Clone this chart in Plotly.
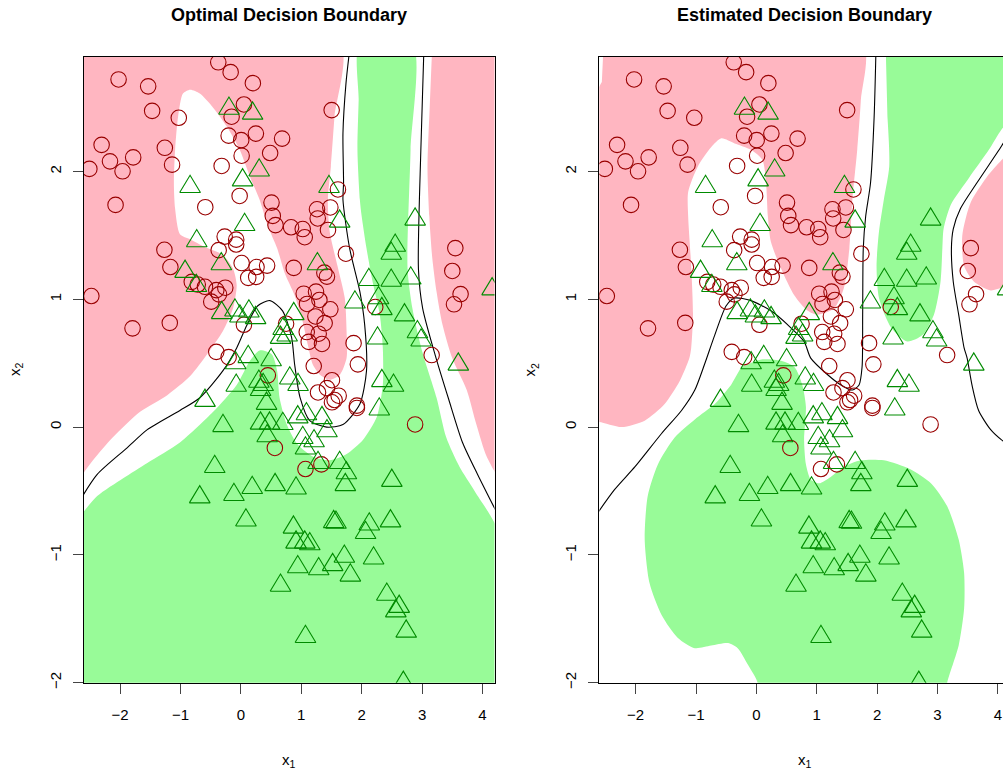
import plotly.graph_objects as go

# ---------------- data ----------------
circle_x = [-0.375, -0.170, -2.026, -1.536, 0.198, 0.050, -0.154, -1.470, -1.029, 1.503,
            -0.203, 0.248, 0.005, 0.682, -2.307, -1.260, 0.012, 0.484, -2.168, -1.784,
            -1.960, -1.140, -2.510, -0.319, -0.021, -2.076, -0.590, 1.607, 0.507, 0.528,
            0.573, 0.831, 1.024, 1.057, 1.260, 1.481, 1.272, 1.442, -0.269, -0.078,
            -0.078, -1.267, -0.368, 1.739, -1.168, 0.012, 0.259, 0.434, 0.121, 0.253,
            0.875, 1.382, 1.425, 3.551, 3.501, -0.814, -0.715, -0.595, -0.408, -0.259,
            -0.363, -0.491, -2.477, 1.040, 1.244, 1.300, 1.095, 1.481, 1.234, 1.387,
            3.638, 3.529, 2.225, -1.795, -1.178, 0.050, 0.748, 1.090, 1.288, 1.123,
            1.343, 1.866, -0.408, -0.203, 3.159, 1.206, 1.937, 0.446, 1.508, 1.425,
            1.277, 1.619, 1.552, 1.508, 1.921, 1.921, 2.885, 0.562, 1.069, 1.333]
circle_y = [2.855, 2.778, 2.721, 2.667, 2.692, 2.525, 2.429, 2.475, 2.421, 2.481,
            2.281, 2.297, 2.246, 2.258, 2.209, 2.186, 2.124, 2.145, 2.080, 2.111,
            2.002, 2.054, 2.021, 2.044, 1.809, 1.739, 1.721, 1.860, 1.757, 1.653,
            1.581, 1.564, 1.550, 1.486, 1.705, 1.719, 1.633, 1.543, 1.491, 1.467,
            1.429, 1.388, 1.385, 1.357, 1.253, 1.284, 1.253, 1.264, 1.168, 1.176,
            1.246, 1.209, 1.178, 1.401, 1.222, 1.137, 1.116, 1.098, 1.072, 1.091,
            1.039, 0.982, 1.026, 1.044, 1.060, 0.995, 0.964, 0.922, 0.866, 0.814,
            1.041, 0.961, 0.940, 0.773, 0.816, 0.801, 0.809, 0.744, 0.731, 0.667,
            0.651, 0.657, 0.589, 0.548, 0.564, 0.478, 0.491, 0.405, 0.367, 0.305,
            0.271, 0.246, 0.212, 0.194, 0.168, 0.150, 0.021, -0.163, -0.328, -0.292]

tri_x = [-0.198, 0.193, -0.842, 0.028, 0.302, 1.458, 0.061, 1.635, 2.885, -0.732,
         -0.325, -0.925, -0.738, 1.267, 2.555, 2.489, 2.119, 2.489, 2.813, 1.888,
         2.279, 2.334, 2.709, 2.923, 2.984, 2.263, 3.600, 4.160, -0.319, -0.099,
         0.132, -0.017, 0.243, 0.875, 0.699, 0.765, 0.656, 0.121, 0.500, -0.088,
         -0.078, -0.595, 0.297, 0.368, 0.325, 0.809, 0.946, 2.334, 2.527, 0.424,
         2.291, -0.297, 0.325, 0.474, 0.694, 0.434, 0.941, 1.085, 1.343, 1.425,
         1.024, 1.211, 1.069, 1.277, 1.635, 1.746, 1.729, 2.499, -0.434, 0.187,
         0.566, 0.913, -0.116, -0.682, 0.083, 0.870, 0.913, 1.057, 1.140, 1.536,
         1.574, 2.126, 2.064, 2.477, 0.941, 1.288, 1.519, 1.713, 1.812, 2.197,
         0.656, 2.416, 2.621, 2.565, 2.737, 1.069, 2.690]
tri_y = [2.494, 2.455, 1.881, 1.933, 2.010, 1.881, 1.584, 1.610, 1.626, 1.457,
         1.277, 1.217, 1.106, 1.277, 1.421, 1.359, 1.153, 1.147, 1.165, 0.977,
         1.010, 0.925, 0.876, 0.744, 0.680, 0.695, 0.491, 1.080, 0.894, 0.915,
         0.907, 0.868, 0.855, 0.886, 0.770, 0.719, 0.700, 0.550, 0.525, 0.502,
         0.326, 0.207, 0.357, 0.331, 0.292, 0.382, 0.331, 0.362, 0.326, 0.184,
         0.140, 0.010, 0.029, 0.029, 0.026, -0.070, 0.078, 0.103, 0.072, -0.031,
         -0.083, -0.109, -0.165, -0.279, -0.279, -0.359, -0.452, -0.419, -0.310, -0.475,
         -0.452, -0.478, -0.529, -0.548, -0.729, -0.785, -0.902, -0.902, -0.915, -0.742,
         -0.747, -0.760, -0.827, -0.736, -1.095, -1.111, -1.078, -1.013, -1.160, -1.026,
         -1.240, -1.310, -1.405, -1.440, -1.599, -1.641, -2.000]

# ---- optimal (left) panel regions and boundary ----
opt_pink_main_x = [-2.7, 1.64, 1.55, 1.49, 1.44, 1.47, 1.60, 1.72, 1.75, 1.75, 1.64, 1.47, 1.31,
                   1.19, 1.11, 1.02, 0.89, 0.73, 0.60, 0.45, 0.31, 0.15, -0.02, -0.23, -0.46,
                   -0.68, -0.84, -0.96, -1.04, -1.09, -1.11, -1.09, -1.01, -0.84, -0.60, -0.31,
                   -0.13, -0.07, -0.13, -0.30, -0.56, -0.84, -1.22, -1.67, -2.12, -2.45, -2.7]
opt_pink_main_y = [3.0, 3.0, 2.43, 2.04, 1.78, 1.53, 1.26, 1.01, 0.75, 0.54, 0.41, 0.37, 0.41,
                   0.49, 0.64, 0.83, 1.03, 1.20, 1.40, 1.57, 1.78, 1.96, 2.17, 2.35, 2.50,
                   2.61, 2.64, 2.61, 2.43, 2.17, 1.91, 1.71, 1.51, 1.47, 1.41, 1.35,
                   1.24, 1.11, 0.93, 0.75, 0.57, 0.40, 0.25, 0.12, -0.08, -0.26, -0.42]
opt_pink_right_x = [3.17, 4.3, 4.3, 4.07, 3.90, 3.74, 3.50, 3.34, 3.24, 3.17, 3.12, 3.09, 3.12]
opt_pink_right_y = [3.0, 3.0, -0.40, -0.23, 0.02, 0.29, 0.54, 0.80, 1.06, 1.32, 1.65, 2.04, 2.43]
opt_green_x = [-2.7, -2.38, -1.95, -1.55, -1.01, -0.46, -0.07, 0.15, 0.31, 0.51, 0.60, 0.64,
               0.76, 0.93, 1.19, 1.47, 1.75, 2.02, 2.25, 2.35, 2.35, 2.30, 2.18, 2.08, 2.00,
               1.97, 1.93, 1.95, 1.97, 2.84, 2.81, 2.76, 2.84, 3.01, 3.24, 3.40, 3.62, 3.87,
               4.3, 4.3, -2.7]
opt_green_y = [-0.72, -0.54, -0.40, -0.28, -0.12, 0.12, 0.33, 0.52, 0.60, 0.57, 0.44, 0.23,
               0.02, -0.13, -0.23, -0.26, -0.21, -0.10, 0.08, 0.33, 0.62, 0.88, 1.14, 1.40, 1.65,
               1.78, 2.17, 2.56, 3.0, 3.0, 2.17, 1.24, 0.93, 0.58, 0.23, -0.08, -0.31, -0.50,
               -0.86, -2.1, -2.1]
opt_line1_x = [-2.7, -2.38, -1.88, -1.55, -1.01, -0.68, -0.30, -0.07, 0.10, 0.28, 0.48, 0.69,
               0.84, 0.89, 0.98, 1.14, 1.42, 1.69, 1.97, 2.08, 2.05, 1.97, 1.80, 1.69, 1.70,
               1.69, 1.74, 1.80]
opt_line1_y = [-0.60, -0.37, -0.16, -0.02, 0.13, 0.23, 0.44, 0.62, 0.80, 0.95, 0.99, 0.91,
               0.70, 0.49, 0.23, 0.05, 0.0, 0.02, 0.18, 0.44, 0.80, 1.06, 1.40, 1.78, 1.91,
               2.30, 2.69, 2.95]
opt_line2_x = [3.03, 2.98, 2.94, 3.01, 3.22, 3.44, 3.67, 3.92, 4.25]
opt_line2_y = [2.95, 2.17, 1.24, 0.93, 0.56, 0.22, -0.12, -0.37, -0.68]

# ---- estimated (right) panel regions and boundary ----
est_pink_main_x = [-2.53, 1.76, 1.73, 1.67, 1.59, 1.54, 1.45, 1.29, 1.01, 0.85, 0.63, 0.41,
                   0.24, 0.19, 0.16, 0.10, -0.09, -0.36, -0.58, -0.75, -0.97, -1.13, -1.13,
                   -1.08, -1.05, -1.08, -1.11, -1.27, -1.52, -1.85, -2.23, -2.6, -2.7, -2.7,
                   -2.56]
est_pink_main_y = [3.0, 3.0, 2.56, 2.17, 1.78, 1.40, 1.09, 0.93, 0.88, 0.91, 1.03, 1.24,
                   1.45, 1.65, 1.91, 2.09, 2.17, 2.22, 2.26, 2.19, 2.04, 1.84, 1.65,
                   1.26, 0.88, 0.62, 0.54, 0.36, 0.18, 0.05, 0.0, 0.04, 0.04, 2.55,
                   2.70]
est_pink_right_x = [4.3, 4.06, 3.82, 3.55, 3.41, 3.44, 3.60, 3.88, 4.06, 4.3]
est_pink_right_y = [2.22, 2.09, 1.96, 1.76, 1.50, 1.26, 1.14, 1.07, 1.09, 1.12]
est_green_top_x = [2.14, 4.3, 4.3, 4.06, 3.85, 3.52, 3.22, 3.10, 3.08, 3.05, 2.94, 2.75, 2.50,
                   2.23, 2.03, 1.99, 2.03, 2.11, 2.20, 2.17]
est_green_top_y = [3.0, 3.0, 2.45, 2.33, 2.17, 1.95, 1.74, 1.55, 1.40, 1.14, 0.88, 0.72, 0.67,
                   0.78, 1.01, 1.26, 1.53, 1.78, 2.04, 2.43]
est_green_low_x = [-0.25, 0.08, 0.41, 0.63, 0.76, 0.82, 0.79, 0.82, 0.90, 1.04, 1.23, 1.45,
                   1.73, 2.11, 2.55, 2.89, 3.16, 3.35, 3.44, 3.44, 3.35, 3.16, 3.13, 0.0, 0.02,
                   -0.14, -0.31, -0.47, -0.75, -1.02, -1.30, -1.57, -1.77, -1.85, -1.80, -1.63,
                   -1.35, -1.02, -0.69, -0.42]
est_green_low_y = [0.47, 0.53, 0.52, 0.47, 0.33, 0.16, -0.10, -0.29, -0.41, -0.44, -0.39, -0.31,
                   -0.26, -0.26, -0.33, -0.44, -0.62, -0.88, -1.14, -1.42, -1.71, -2.0, -2.1, -2.1,
                   -2.0, -1.86, -1.73, -1.69, -1.71, -1.73, -1.65, -1.47, -1.22, -0.88, -0.54,
                   -0.29, -0.08, 0.06, 0.18, 0.33]
est_line1_x = [-2.7, -2.35, -2.01, -1.57, -1.24, -1.02, -0.86, -0.69, -0.50, -0.36, -0.09,
               0.24, 0.52, 0.79, 0.90, 1.18, 1.40, 1.59, 1.70, 1.75, 1.76, 1.77, 1.81, 1.89,
               1.95, 1.98]
est_line1_y = [-0.72, -0.49, -0.31, -0.05, 0.13, 0.29, 0.49, 0.72, 0.95, 1.01, 0.99,
               0.91, 0.80, 0.67, 0.54, 0.41, 0.33, 0.29, 0.33, 0.47, 0.88, 1.40, 1.65, 1.91,
               2.43, 2.95]
est_line2_x = [4.25, 4.06, 3.65, 3.38, 3.26, 3.23, 3.26, 3.35, 3.44, 3.49, 3.57, 3.68, 3.88,
               4.06, 4.25]
est_line2_y = [2.35, 2.20, 1.91, 1.71, 1.55, 1.40, 1.14, 0.88, 0.62, 0.54, 0.33, 0.13, -0.02,
               -0.10, -0.16]

x_ticks = [-2, -1, 0, 1, 2, 3, 4]
y_ticks = [-2, -1, 0, 1, 2]
titles = ["Optimal Decision Boundary", "Estimated Decision Boundary"]

PINK = "#FFB6C1"
GREEN = "#98FB98"
CIRCLE_COL = "#990000"
TRI_COL = "#008B00"
FONT = "Liberation Sans, Arial, sans-serif"

# the original figure is slightly wider than the window; the window crops its right edge
W, H = 1011, 773
PX_X, PX_Y = 60.5, 129.0          # screen pixels per data unit (style constant)
TRI_HALF_W, TRI_UP, TRI_DOWN = 10.4, 11.6, 5.8   # triangle marker geometry in pixels

fig = go.Figure()


def region(xs, ys, color, xa, ya):
    fig.add_trace(go.Scatter(x=xs, y=ys, mode="lines", fill="toself", fillcolor=color,
                             line=dict(width=0, color=color, shape="spline", smoothing=0.7),
                             hoverinfo="skip", showlegend=False, xaxis=xa, yaxis=ya))


def bline(xs, ys, xa, ya):
    fig.add_trace(go.Scatter(x=xs, y=ys, mode="lines",
                             line=dict(width=1.1, color="black", shape="spline", smoothing=0.7),
                             hoverinfo="skip", showlegend=False, xaxis=xa, yaxis=ya))


def points(xa, ya):
    fig.add_trace(go.Scatter(x=circle_x, y=circle_y, mode="markers",
                             marker=dict(symbol="circle-open", size=15.5, color=CIRCLE_COL,
                                         line=dict(width=1.1, color=CIRCLE_COL)),
                             hoverinfo="skip", showlegend=False, xaxis=xa, yaxis=ya))
    # open equilateral-looking triangles (R pch = 2) built around each data point
    dx = TRI_HALF_W / PX_X
    du = TRI_UP / PX_Y
    dd = TRI_DOWN / PX_Y
    tx, ty = [], []
    for x, y in zip(tri_x, tri_y):
        tx += [x - dx, x + dx, x, x - dx, None]
        ty += [y - dd, y - dd, y + du, y - dd, None]
    fig.add_trace(go.Scatter(x=tx, y=ty, mode="lines",
                             line=dict(width=1.1, color=TRI_COL),
                             hoverinfo="skip", showlegend=False, xaxis=xa, yaxis=ya))


# left panel
region(opt_pink_main_x, opt_pink_main_y, PINK, "x", "y")
region(opt_pink_right_x, opt_pink_right_y, PINK, "x", "y")
region(opt_green_x, opt_green_y, GREEN, "x", "y")
bline(opt_line1_x, opt_line1_y, "x", "y")
bline(opt_line2_x, opt_line2_y, "x", "y")
points("x", "y")

# right panel
region(est_pink_main_x, est_pink_main_y, PINK, "x2", "y2")
region(est_pink_right_x, est_pink_right_y, PINK, "x2", "y2")
region(est_green_top_x, est_green_top_y, GREEN, "x2", "y2")
region(est_green_low_x, est_green_low_y, GREEN, "x2", "y2")
bline(est_line1_x, est_line1_y, "x2", "y2")
bline(est_line2_x, est_line2_y, "x2", "y2")
points("x2", "y2")

ydom = [1 - 688 / H, 1 - 57 / H]
axis_common = dict(showgrid=False, zeroline=False, showline=True, linecolor="black",
                   linewidth=1, ticks="outside", ticklen=10, tickcolor="#444444", tickwidth=1,
                   tickfont=dict(family=FONT, size=15, color="black"))

fig.update_layout(
    width=W, height=H, margin=dict(l=0, r=0, t=0, b=0),
    paper_bgcolor="white", plot_bgcolor="white", showlegend=False,
    xaxis=dict(domain=[84 / W, 495 / W], range=[-2.6, 4.2], tickvals=x_ticks,
               mirror=True, anchor="y", ticklabelstandoff=8, **axis_common),
    yaxis=dict(domain=ydom, range=[-2, 2.9], tickvals=y_ticks, tickangle=-90,
               mirror=True, anchor="x", ticklabelstandoff=6, **axis_common),
    xaxis2=dict(domain=[600 / W, 1011 / W], range=[-2.6, 4.2], tickvals=x_ticks,
                mirror=True, anchor="y2", ticklabelstandoff=8, **axis_common),
    yaxis2=dict(domain=ydom, range=[-2, 2.9], tickvals=y_ticks, tickangle=-90,
                mirror=True, anchor="x2", ticklabelstandoff=6, **axis_common),
)

ann = []
for cx, t in [((84 + 495) / 2, titles[0]), ((600 + 1011) / 2, titles[1])]:
    ann.append(dict(x=cx / W, y=1 - 15 / H, xref="paper", yref="paper", text="<b>" + t + "</b>",
                    showarrow=False, font=dict(family=FONT, size=18, color="black"),
                    xanchor="center", yanchor="middle"))
for cx in [(84 + 495) / 2, (600 + 1011) / 2]:
    ann.append(dict(x=cx / W, y=1 - 766 / H, xref="paper", yref="paper", text="x<sub>1</sub>",
                    showarrow=False, font=dict(family=FONT, size=15, color="black"),
                    xanchor="center", yanchor="middle"))
for cx in [15, 531]:
    ann.append(dict(x=cx / W, y=1 - 372 / H, xref="paper", yref="paper", text="x<sub>2</sub>",
                    showarrow=False, textangle=-90, font=dict(family=FONT, size=15, color="black"),
                    xanchor="center", yanchor="middle"))
fig.update_layout(annotations=ann)

fig.write_html("out.html", config={"displayModeBar": False})

# remove the browser's default page margin so the figure sits at the window origin
with open("out.html", "r", encoding="utf-8") as f:
    html = f.read()
html = html.replace("<head>", "<head><style>html,body{margin:0;padding:0;overflow:hidden;}</style>", 1)
with open("out.html", "w", encoding="utf-8") as f:
    f.write(html)
